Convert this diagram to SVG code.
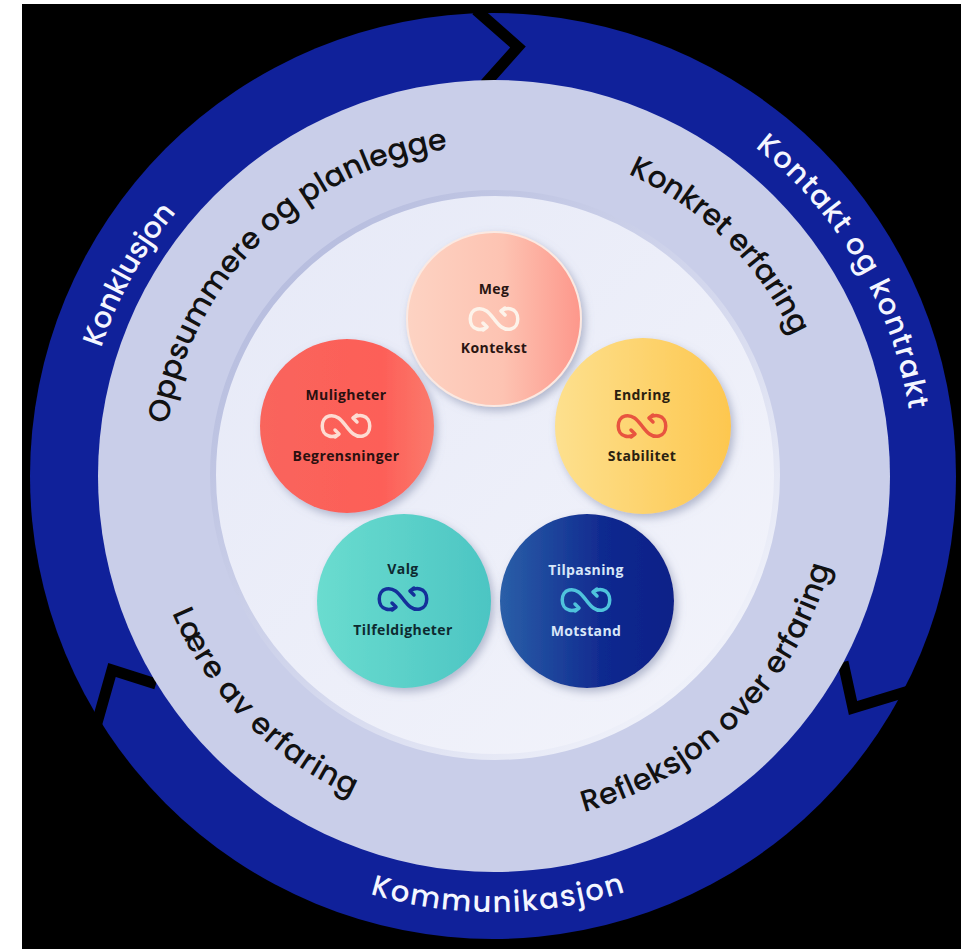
<svg xmlns="http://www.w3.org/2000/svg" width="961" height="950" viewBox="0 0 961 950">
<style>
.ring{font-family:"Poppins","Open Sans","Liberation Sans",sans-serif;font-weight:500}
.w{fill:#f4f6ff;font-size:29px}
.k{fill:#111;font-size:30px}
.n{font-family:"Open Sans","Noto Sans",sans-serif;font-size:14px;font-weight:700;text-anchor:middle;letter-spacing:.4px}
.c{filter:url(#sh)}
.i{fill:none;stroke-width:3.500;stroke-linecap:round;stroke-linejoin:round}
</style>
<defs>
<filter id="sh" x="-20%" y="-20%" width="140%" height="140%"><feDropShadow dx="3" dy="4" stdDeviation="4" flood-color="#8088a8" flood-opacity=".55"/></filter>
<linearGradient id="g1"><stop offset="0" stop-color="#fdd3c3"/><stop offset=".55" stop-color="#fdc3b2"/><stop offset="1" stop-color="#fd978b"/></linearGradient>
<linearGradient id="g2"><stop offset="0" stop-color="#f9655c"/><stop offset=".7" stop-color="#fd5f58"/><stop offset="1" stop-color="#fb7a6c"/></linearGradient>
<linearGradient id="g3"><stop offset="0" stop-color="#fde08e"/><stop offset="1" stop-color="#fdc74f"/></linearGradient>
<linearGradient id="g4"><stop offset="0" stop-color="#6adccf"/><stop offset="1" stop-color="#4cc5c3"/></linearGradient>
<linearGradient id="g5"><stop offset="0" stop-color="#2a5fa8"/><stop offset=".6" stop-color="#10298f"/><stop offset="1" stop-color="#0e2088"/></linearGradient>
<linearGradient id="rim" x1="0" y1="0" x2="1" y2="1"><stop offset="0" stop-color="#aeb5da"/><stop offset=".55" stop-color="#d5d9ee"/><stop offset="1" stop-color="#fbfcff"/></linearGradient>
<linearGradient id="dk" x1="0" y1="0" x2="1" y2="1"><stop offset="0" stop-color="#e6e9f7"/><stop offset="1" stop-color="#f3f4fb"/></linearGradient>
<path id="inf" d="M-7 8C-10 10 -14 11 -17 10C-26 8 -26 -8 -17 -10C-9 -12 -4 -5 0 0C4 5 9 12 17 10C26 8 26 -8 17 -10C14 -11 10 -10 7 -8M-11 4L-7 8L-11 11M11 -4L7 -8L11 -11"/>
<path id="t1" d="M168 424A330 330 0 0 1 448 149"/>
<path id="t2" d="M628 174A330 330 0 0 1 793 337"/>
<path id="t3" d="M584 812A348 348 0 0 0 830 566"/>
<path id="t4" d="M172 613A350 350 0 0 0 352 796"/>
<path id="t5" d="M755 147A420 420 0 0 1 909 410"/>
<path id="t6" d="M101 348A413 413 0 0 1 180 208"/>
<path id="t7" d="M370 894A436 436 0 0 0 625 892"/>
</defs>
<rect x="22" y="4" width="939" height="945" fill="#000"/>
<g id="ring-outer">
<circle cx="493" cy="476" r="463" fill="#10219a"/>
</g>
<g id="connectors" fill="none" stroke="#000" stroke-width="11" stroke-linejoin="miter">
<path d="M476 10L518 47L485 84"/>
<path d="M843 662L853 708L912 690"/>
<path d="M156 684L112 670L95 730"/>
</g>
<circle id="ring-middle" cx="494" cy="476" r="396" fill="#c9cee9"/>
<circle id="disk" cx="495" cy="475" r="282" fill="url(#dk)" stroke="url(#rim)" stroke-width="6"/>
<g id="labels">
<text class="ring k"><textPath href="#t1" textLength="420" lengthAdjust="spacing">Oppsummere og planlegge</textPath></text>
<text class="ring k"><textPath href="#t2" textLength="236" lengthAdjust="spacing">Konkret erfaring</textPath></text>
<text class="ring k"><textPath href="#t3" textLength="364" lengthAdjust="spacing">Refleksjon over erfaring</textPath></text>
<text class="ring k"><textPath href="#t4" textLength="263" lengthAdjust="spacing">Lære av erfaring</textPath></text>
<text class="ring w"><textPath href="#t5" textLength="311" lengthAdjust="spacing">Kontakt og kontrakt</textPath></text>
<text class="ring w"><textPath href="#t6" textLength="156" lengthAdjust="spacing">Konklusjon</textPath></text>
<text class="ring w"><textPath href="#t7" textLength="259" lengthAdjust="spacing">Kommunikasjon</textPath></text>
</g>
<g id="node-meg"><circle class="c" cx="494" cy="319" r="87" fill="url(#g1)" stroke="#fbe9e2" stroke-width="2"/><text class="n" x="494" y="294" fill="#2a1512">Meg</text><use href="#inf" x="494" y="319" class="i" stroke="#fdf3ea"/><text class="n" x="494" y="353" fill="#2a1512">Kontekst</text></g>
<g id="node-muligheter"><circle class="c" cx="347" cy="426" r="87" fill="url(#g2)"/><text class="n" x="346" y="400" fill="#2a1010">Muligheter</text><use href="#inf" x="346" y="426" class="i" stroke="#fddcd2"/><text class="n" x="346" y="461" fill="#2a1010">Begrensninger</text></g>
<g id="node-endring"><circle class="c" cx="643" cy="426" r="88" fill="url(#g3)"/><text class="n" x="642" y="400" fill="#2a2010">Endring</text><use href="#inf" x="642" y="426" class="i" stroke="#e8543f"/><text class="n" x="642" y="461" fill="#2a2010">Stabilitet</text></g>
<g id="node-valg"><circle class="c" cx="404" cy="601" r="87" fill="url(#g4)"/><text class="n" x="403" y="574" fill="#0e2a30">Valg</text><use href="#inf" x="403" y="599" class="i" stroke="#14309a"/><text class="n" x="403" y="635" fill="#0e2a30">Tilfeldigheter</text></g>
<g id="node-tilpasning"><circle class="c" cx="587" cy="601" r="87" fill="url(#g5)"/><text class="n" x="586" y="575" fill="#d8e6f8">Tilpasning</text><use href="#inf" x="586" y="600" class="i" stroke="#4fc3dc"/><text class="n" x="586" y="636" fill="#d8e6f8">Motstand</text></g>
</svg>
